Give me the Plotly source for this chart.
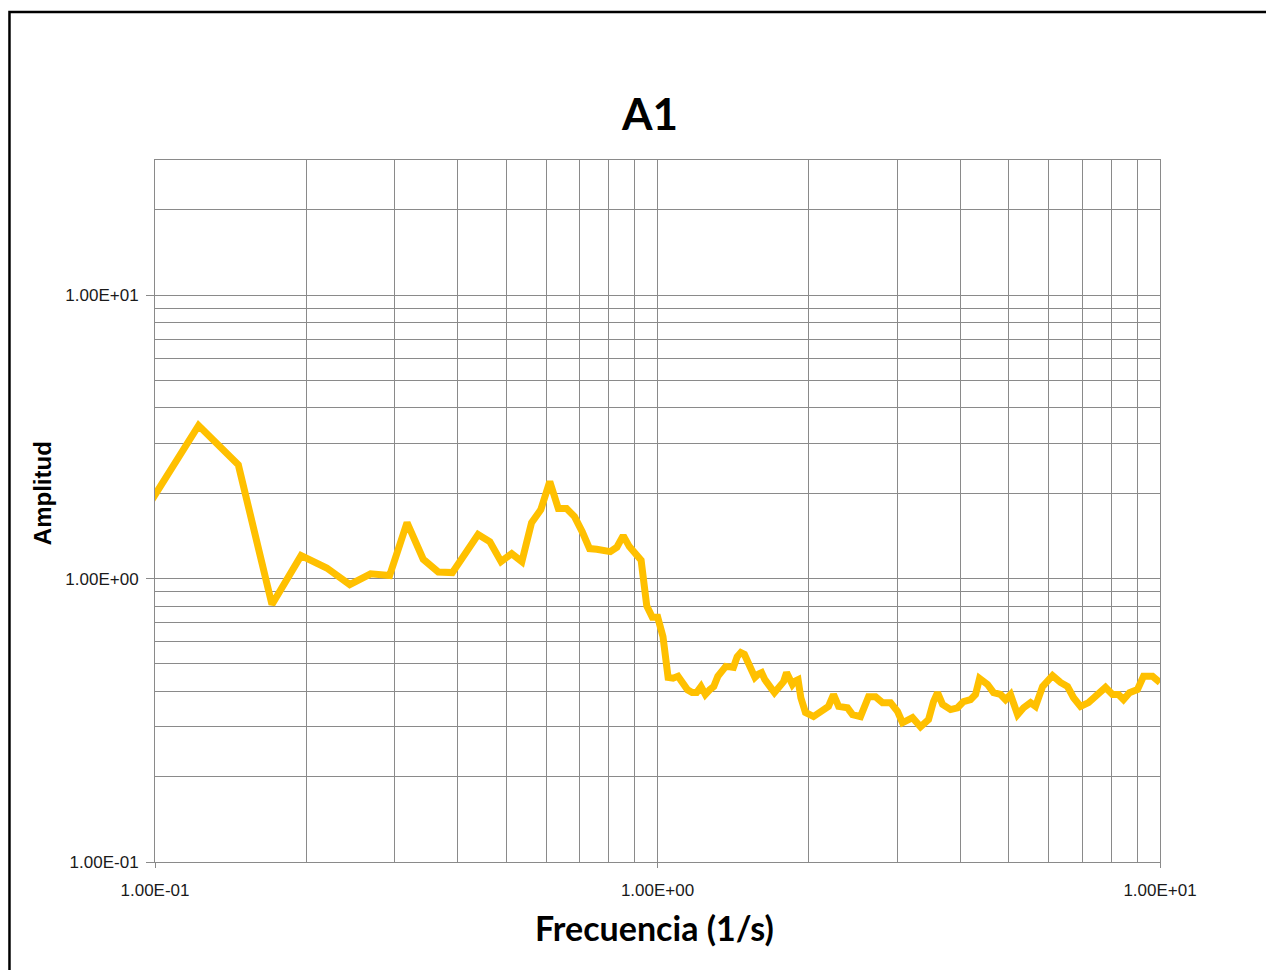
import plotly.graph_objects as go

# Frequency (1/s) and amplitude
freq = [
    0.0977, 0.1221, 0.1465, 0.1709, 0.1953, 0.2197, 0.2441, 0.2686, 0.2930, 0.3174,
    0.3418, 0.3662, 0.3906, 0.4150, 0.4395, 0.4639, 0.4883, 0.5127, 0.5371, 0.5615,
    0.5859, 0.6104, 0.6348, 0.6592, 0.6836, 0.7080, 0.7324, 0.7568, 0.7813, 0.8057,
    0.8301, 0.8545, 0.8789, 0.9033, 0.9277, 0.9521, 0.9766, 1.0010, 1.0254, 1.0498,
    1.0742, 1.0986, 1.1230, 1.1475, 1.1719, 1.1963, 1.2207, 1.2451, 1.2695, 1.2939,
    1.3184, 1.3428, 1.3672, 1.3916, 1.4160, 1.4404, 1.4648, 1.4893, 1.5137, 1.5381,
    1.5625, 1.5869, 1.6113, 1.6357, 1.6602, 1.6846, 1.7090, 1.7334, 1.7578, 1.7822,
    1.8066, 1.8311, 1.8555, 1.8799, 1.9043, 1.9287,
    1.970, 2.044, 2.110, 2.189, 2.240, 2.293, 2.388, 2.444, 2.535, 2.630,
    2.716, 2.804, 2.909, 3.003, 3.073, 3.217, 3.337, 3.462, 3.542, 3.608,
    3.692, 3.830, 3.954, 4.064, 4.197, 4.294, 4.374, 4.537, 4.664, 4.816,
    4.927, 5.041, 5.207, 5.352, 5.526, 5.653, 5.838, 6.111, 6.339, 6.546,
    6.729, 6.948, 7.207, 7.510, 7.790, 8.044, 8.268, 8.460, 8.695, 9.020,
    9.272, 9.663, 10.0,
]
amplitude = [
    1.85, 3.47, 2.52, 0.81, 1.205, 1.09, 0.952, 1.04, 1.025, 1.576,
    1.17, 1.055, 1.05, 1.245, 1.43, 1.35, 1.148, 1.225, 1.148, 1.576,
    1.751, 2.2, 1.766, 1.766, 1.655, 1.465, 1.276, 1.27, 1.255, 1.245,
    1.29, 1.418, 1.297, 1.22, 1.16, 0.80, 0.73, 0.73, 0.624, 0.448,
    0.445, 0.452, 0.423, 0.405, 0.396, 0.396, 0.416, 0.39, 0.405, 0.416,
    0.452, 0.47, 0.49, 0.488, 0.486, 0.53, 0.548, 0.54, 0.51, 0.486,
    0.448, 0.46, 0.466, 0.44, 0.42, 0.41, 0.396, 0.41, 0.42, 0.433,
    0.466, 0.44, 0.423, 0.435, 0.44, 0.38,
    0.337, 0.326, 0.34, 0.354, 0.39, 0.354, 0.35, 0.331, 0.326, 0.383,
    0.383, 0.365, 0.365, 0.34, 0.31, 0.323, 0.30, 0.318, 0.368, 0.396,
    0.36, 0.345, 0.35, 0.368, 0.374, 0.39, 0.444, 0.423, 0.396, 0.39,
    0.374, 0.39, 0.331, 0.35, 0.365, 0.354, 0.416, 0.455, 0.43, 0.416,
    0.38, 0.354, 0.365, 0.39, 0.413, 0.39, 0.39, 0.374, 0.396, 0.406,
    0.452, 0.452, 0.43,
]

title_text = "A1"
x_title = "Frecuencia (1/s)"
y_title = "Amplitud"
major_ticks = [0.1, 1, 10]
major_labels = ["1.00E-01", "1.00E+00", "1.00E+01"]

grid_color = "#8a8a8a"
minor_x = [m * d for d in (0.1, 1) for m in range(2, 10)]
minor_y = [m * d for d in (0.1, 1, 10) for m in range(2, 10)]

fig = go.Figure()
fig.add_trace(go.Scatter(
    x=freq, y=amplitude, mode="lines",
    line=dict(color="#FFC000", width=7),
    showlegend=False, hoverinfo="skip",
))

tickfont = dict(family="Liberation Sans, Arial, sans-serif", size=17, color="#1a1a1a")

fig.update_layout(
    width=1274, height=970,
    margin=dict(l=147, r=122, t=152, b=116),
    paper_bgcolor="white", plot_bgcolor="white",
    showlegend=False,
    xaxis=dict(
        type="log", range=[-1, 1],
        tickvals=major_ticks, ticktext=major_labels, tickfont=tickfont,
        ticks="outside", ticklen=5, tickcolor=grid_color,
        ticklabelstandoff=8,
        showgrid=True, gridcolor=grid_color, gridwidth=1,
        minor=dict(tickvals=minor_x, showgrid=True, gridcolor=grid_color, gridwidth=1, ticks=""),
        showline=True, linecolor=grid_color, linewidth=1, mirror=True,
        zeroline=False,
    ),
    yaxis=dict(
        type="log", range=[-1, 1.4771],
        tickvals=major_ticks, ticktext=major_labels, tickfont=tickfont,
        ticks="outside", ticklen=8, tickcolor=grid_color,
        ticklabelstandoff=4,
        showgrid=True, gridcolor=grid_color, gridwidth=1,
        minor=dict(tickvals=minor_y, showgrid=True, gridcolor=grid_color, gridwidth=1, ticks=""),
        showline=True, linecolor=grid_color, linewidth=1, mirror=True,
        zeroline=False,
    ),
    annotations=[
        dict(text="<b>" + title_text + "</b>", x=0.4925, y=1.067, xref="paper", yref="paper",
             showarrow=False, xanchor="center", yanchor="middle",
             font=dict(family="Lato, Open Sans, sans-serif", size=44, color="black")),
        dict(text="<b>" + x_title + "</b>", x=0.4975, y=-0.094, xref="paper", yref="paper",
             showarrow=False, xanchor="center", yanchor="middle",
             font=dict(family="Lato, Open Sans, sans-serif", size=34, color="black")),
        dict(text="<b>" + y_title + "</b>", x=-0.112, y=0.526, xref="paper", yref="paper",
             showarrow=False, xanchor="center", yanchor="middle", textangle=-90,
             font=dict(family="Liberation Sans, Arial, sans-serif", size=24, color="black")),
    ],
    shapes=[
        dict(type="rect", xref="paper", yref="paper",
             x0=-0.1448, y0=-0.17, x1=1.13, y1=1.2108,
             line=dict(color="black", width=2.5), fillcolor="rgba(0,0,0,0)", layer="below"),
    ],
)

fig.write_html("out.html")
